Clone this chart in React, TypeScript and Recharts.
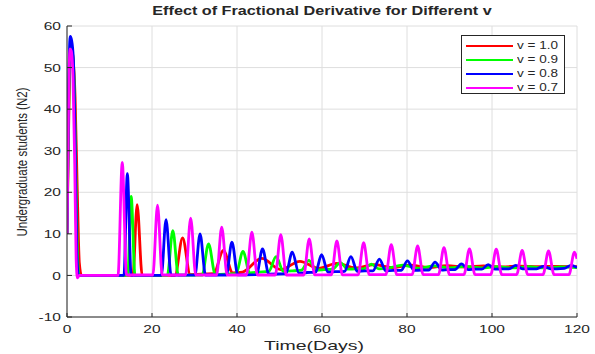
import { LineChart, Line, XAxis, YAxis, CartesianGrid } from "recharts";

// axis ticks
const xTicks = [0, 20, 40, 60, 80, 100, 120];
const yTicks = [-10, 0, 10, 20, 30, 40, 50, 60];

const names = ["v = 1.0", "v = 0.9", "v = 0.8", "v = 0.7"];
const colors = ["#ff0000", "#00ff00", "#0000ff", "#ff00ff"];

// [time, N2]
const red = [
  [0, 10], [0.45, 40], [0.95, 55], [1.4, 52.5], [1.9, 43], [2.4, 21], [2.9, 3], [3.4, 0],
  [15.5, 0], [16.5, 17.0], [17.7, 0],
  [25.4, 0], [27.2, 9.0], [29.0, 0.2],
  [34.5, 0.4], [36.8, 6.0], [39.0, 0.6], [41.3, 0.8],
  [45.8, 4.1], [50.3, 1.4], [54.8, 3.4], [59.2, 1.7], [63.5, 2.9], [67.9, 1.8],
  [72.2, 2.6], [76.5, 1.9], [80.8, 2.45], [85.1, 1.95], [89.4, 2.35], [93.7, 2.0],
  [98, 2.3], [102.3, 2.05], [106.6, 2.25], [110.9, 2.1], [115.2, 2.2], [120, 2.1],
];

const green = [
  [0, 10], [0.4, 40], [0.85, 55], [1.3, 53.5], [1.7, 46], [2.1, 24], [2.5, 4], [2.9, 0],
  [14.3, 0], [15.1, 19.0], [16.0, 0],
  [23.6, 0], [24.9, 10.8], [26.2, 0.05],
  [31.8, 0.1], [33.3, 7.6], [34.9, 0.2],
  [39.8, 0.4], [41.4, 5.8], [43.0, 0.6], [45.2, 0.8],
  [47.5, 1.0], [49.2, 4.5], [50.9, 1.0], [53.0, 1.1],
  [55.2, 1.3], [56.9, 3.6], [58.6, 1.3], [60.5, 1.4],
  [62.5, 1.5], [64.3, 3.1], [66.1, 1.5], [68.0, 1.6],
  [69.8, 1.6], [71.6, 2.7], [73.4, 1.6], [75.3, 1.7],
  [79.0, 2.5], [82.7, 1.7], [86.4, 2.3], [90.1, 1.8], [93.8, 2.2], [97.5, 1.8],
  [101.2, 2.1], [104.9, 1.8], [108.6, 2.1], [112.3, 1.8], [116, 2.05], [120, 1.9],
];

const blue = [
  [0, 10], [0.35, 42], [0.75, 57.5], [1.1, 56.5], [1.5, 52], [1.9, 32], [2.3, 6], [2.7, 0],
  [13.4, 0], [14.2, 24.5], [15.1, 0],
  [22.2, 0], [23.3, 13.4], [24.5, 0.05],
  [30.1, 0.05], [31.3, 10.0], [32.6, 0.1],
  [37.5, 0.1], [38.8, 8.0], [40.2, 0.15],
  [44.6, 0.2], [46.0, 6.4], [47.5, 0.3],
  [51.5, 0.4], [53.0, 5.6], [54.6, 0.5], [56.5, 0.7],
  [58.5, 0.8], [59.9, 5.0], [61.4, 0.8], [63.1, 0.9],
  [65.3, 1.0], [66.8, 4.5], [68.3, 1.0], [70.1, 1.1],
  [72.0, 1.1], [73.5, 3.9], [75.0, 1.1], [76.8, 1.2],
  [78.6, 1.2], [80.1, 3.5], [81.7, 1.2], [83.5, 1.3],
  [85.1, 1.3], [86.6, 3.2], [88.2, 1.3], [89.7, 1.4],
  [91.3, 1.4], [92.8, 2.8], [94.4, 1.4], [96.0, 1.5],
  [97.6, 1.5], [99.1, 2.6], [100.7, 1.5], [102.3, 1.6],
  [104.0, 1.6], [105.6, 2.4], [107.2, 1.6], [108.8, 1.6],
  [110.5, 1.6], [112.1, 2.2], [113.8, 1.6], [115.3, 1.6],
  [117.0, 1.7], [118.6, 2.4], [120, 1.9],
];

const magenta = [
  [0, 10], [0.35, 40], [0.7, 54.5], [1.0, 54], [1.4, 48], [1.8, 28], [2.15, 4], [2.45, -0.6], [2.9, 0],
  [12.0, 0], [13.0, 27.2], [14.0, 0.1],
  [20.2, 0.1], [21.3, 16.9], [22.4, 0.1],
  [27.9, 0.1], [29.1, 13.8], [30.3, 0.1],
  [35.2, 0.1], [36.4, 11.6], [37.7, 0.1],
  [42.2, 0.1], [43.5, 10.4], [44.8, 0.1],
  [49.0, 0.1], [50.3, 9.8], [51.6, 0.1],
  [55.7, 0.1], [57.0, 8.8], [58.3, 0.15],
  [62.2, 0.15], [63.5, 8.3], [64.8, 0.15],
  [68.5, 0.15], [69.8, 7.9], [71.1, 0.2],
  [75.0, 0.2], [76.3, 7.4], [77.6, 0.2],
  [81.2, 0.2], [82.5, 7.1], [83.8, 0.2],
  [87.4, 0.2], [88.7, 6.7], [90.0, 0.2],
  [93.4, 0.2], [94.7, 6.4], [96.0, 0.2],
  [99.7, 0.2], [101.0, 6.3], [102.3, 0.2],
  [105.8, 0.2], [107.1, 6.0], [108.4, 0.2],
  [112.0, 0.2], [113.3, 5.9], [114.6, 0.2],
  [118.1, 0.2], [119.4, 5.6], [120, 4.0],
];

const toPts = (a: number[][]) => a.map(([t, v]) => ({ t, v }));
const series = [red, green, blue, magenta].map(toPts);

const FONT = "'Liberation Sans', Arial, Helvetica, sans-serif";
const INK = "#262626";
const SX = 1.35; // the figure is stretched sideways

function XTick(p: any) {
  return (
    <g>
      <line x1={p.x} x2={p.x} y1={p.y - 8} y2={p.y - 12} stroke={INK} />
      <text transform={`translate(${p.x},${p.y}) scale(${SX},1)`} textAnchor="middle" dy="0.72em" fontSize={11.5} fill={INK} fontFamily={FONT}>
        {p.payload.value}
      </text>
    </g>
  );
}

function YTick(p: any) {
  return (
    <g>
      <line x1={p.x + 6} x2={p.x + 11} y1={p.y} y2={p.y} stroke={INK} />
      <text transform={`translate(${p.x},${p.y}) scale(${SX},1)`} textAnchor="end" dy="0.36em" fontSize={11.5} fill={INK} fontFamily={FONT}>
        {p.payload.value}
      </text>
    </g>
  );
}

export default function App() {
  return (
    <div style={{ position: "absolute", left: 0, top: 0, width: 595, height: 354, background: "#fff", fontFamily: FONT, color: INK }}>
      <LineChart width={595} height={354} margin={{ top: 26, right: 18, left: 0, bottom: 0 }}>
        <CartesianGrid stroke="#dedede" horizontalValues={yTicks} verticalValues={xTicks} />
        <XAxis type="number" dataKey="t" domain={[0, 120]} ticks={xTicks} height={37} stroke={INK}
          tickSize={0} tickMargin={8} tick={<XTick />} allowDataOverflow />
        <YAxis type="number" domain={[-10, 60]} ticks={yTicks} width={67} stroke={INK}
          tickSize={0} tickMargin={6} tick={<YTick />} allowDataOverflow />
        {series.map((d, i) => (
          <Line key={names[i]} data={d} dataKey="v" name={names[i]} type="monotone" stroke={colors[i]}
            strokeWidth={2.8} dot={false} activeDot={false} isAnimationActive={false} />
        ))}
      </LineChart>

      <div style={{ position: "absolute", left: 67, width: 510, top: 4, textAlign: "center", fontSize: 12, fontWeight: 700, lineHeight: "14px", transform: `scaleX(${SX})` }}>
        Effect of Fractional Derivative for Different v
      </div>
      <div style={{ position: "absolute", left: 314 - 100, width: 200, top: 338, textAlign: "center", fontSize: 13, lineHeight: "15px", transform: "scaleX(1.5)" }}>
        Time(Days)
      </div>
      <div style={{ position: "absolute", left: 22 - 100, top: 162 - 7, width: 200, textAlign: "center", fontSize: 11.5, lineHeight: "14px", transform: `scaleX(${SX}) rotate(-90deg)` }}>
        Undergraduate students (N2)
      </div>

      <div style={{ position: "absolute", left: 461, top: 35, width: 102, height: 57, border: `1px solid ${INK}`, background: "#fff" }}>
        {names.map((n, i) => (
          <div key={n} style={{ position: "absolute", left: 4, top: 3 + i * 14, height: 14, width: 100 }}>
            <div style={{ position: "absolute", left: 0, top: 6, width: 47, height: 2, background: colors[i] }} />
            <div style={{ position: "absolute", left: 51, top: 0, fontSize: 10, lineHeight: "14px", whiteSpace: "nowrap", transform: `scaleX(${SX})`, transformOrigin: "left center" }}>
              {n}
            </div>
          </div>
        ))}
      </div>
    </div>
  );
}
